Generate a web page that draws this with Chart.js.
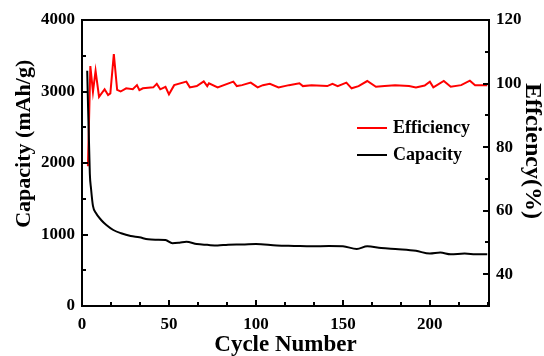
<!DOCTYPE html>
<html>
<head>
<meta charset="utf-8">
<script src="https://cdn.jsdelivr.net/npm/chart.js@4.4.1/dist/chart.umd.min.js"></script>
<style>
  html, body { margin: 0; padding: 0; background: #fff; }
  #wrap { width: 544px; height: 356px; position: relative; }
</style>
</head>
<body>
<div id="wrap"><canvas id="myChart"></canvas></div>
<script>
// cycle numbers and values
var capCycles = [3,4.5,5.2,6.3,8,11,14,18,22.5,28,33,38,43,48,52,56,60,66,72,78,84,92,100,112,122,132,142,150,158,164,172,182,192,200,206,212,220,226,233];
var capacity = [3290,1850,1640,1400,1300,1203,1133,1063,1017,979,961,933,928,923,877,885,899,867,855,845,858,860,868,845,840,835,838,835,797,835,811,795,772,733,747,723,733,725,723];

var effCycles = [3.4,4.8,6.3,7.8,9.8,13,15,16.3,18.3,20.2,22.2,25.4,29.2,31.6,33,35,38,41,43,45,48,50,53,60,62,66,70,72,73,78,87,89,92,97,101,104,108,113,119,125,127,132,141,144,147,152,155,159,164,169,174,180,188,192,197,200,202,208,212,218,223,226,233];
var efficiency = [74,105.5,97.4,104,95.8,98.2,96.4,96.9,109.3,98,97.5,98.5,98.2,99.5,97.9,98.5,98.7,98.8,99.9,98.2,99,96.6,99.5,100.6,98.8,99.2,100.7,99.2,100.1,98.8,100.6,99.2,99.5,100.3,98.8,99.5,99.9,98.8,99.5,100.1,99.2,99.5,99.2,99.9,99.2,100.3,98.5,99.2,100.8,99,99.2,99.5,99.2,98.8,99.4,100.6,98.8,100.8,99,99.5,100.9,99.5,99.5];

var xTicks = [0,50,100,150,200];
var leftTicks = [0,1000,2000,3000,4000];
var rightTicks = [40,60,80,100,120];

var serif = "'Liberation Serif', 'Times New Roman', serif";
Chart.defaults.font.family = serif;
Chart.defaults.font.weight = 'bold';
Chart.defaults.color = '#000';

function toPoints(xs, ys){
    var pts = [];
    for(let i = 0; i < xs.length; i++){
        pts.push({x: xs[i], y: ys[i]});
    }
    return pts;
}

function plain(v){ return String(v); }

// frame + inward ticks (major and minor)
var frameTicks = {
    id: 'frameTicks',
    afterDatasetsDraw: function(chart){
        var ctx = chart.ctx;
        var a = chart.chartArea;
        var sx = chart.scales.x, sl = chart.scales.y, sr = chart.scales.y1;
        ctx.save();
        ctx.strokeStyle = '#000';
        ctx.lineWidth = 2;
        ctx.beginPath();
        // x ticks
        for(let v = 0; v <= sx.max + 0.01; v += 50/3){
            var px = Math.round(sx.getPixelForValue(v));
            var major = Math.abs(v/50 - Math.round(v/50)) < 0.01;
            ctx.moveTo(px, a.bottom);
            ctx.lineTo(px, a.bottom - (major ? 6 : 4));
        }
        // left ticks
        for(let v = 0; v <= sl.max; v += 500){
            var py = Math.round(sl.getPixelForValue(v));
            ctx.moveTo(a.left, py);
            ctx.lineTo(a.left + (v % 1000 === 0 ? 6 : 4), py);
        }
        // right ticks
        for(let v = 40; v <= sr.max; v += 10){
            var py2 = Math.round(sr.getPixelForValue(v));
            ctx.moveTo(a.right, py2);
            ctx.lineTo(a.right - (v % 20 === 0 ? 6 : 4), py2);
        }
        ctx.stroke();
        ctx.strokeRect(a.left, a.top, a.right - a.left, a.bottom - a.top);
        ctx.restore();
    }
};

// legend drawn inside the plot
var innerLegend = {
    id: 'innerLegend',
    afterDraw: function(chart){
        var ctx = chart.ctx;
        var a = chart.chartArea;
        var order = [1, 0];
        ctx.save();
        ctx.font = 'bold 18px ' + serif;
        ctx.textBaseline = 'middle';
        ctx.fillStyle = '#000';
        for(let i = 0; i < order.length; i++){
            var ds = chart.data.datasets[order[i]];
            var y = a.top + 108 + i * 27;
            var x0 = a.left + 275;
            ctx.strokeStyle = ds.borderColor;
            ctx.lineWidth = 2;
            ctx.beginPath();
            ctx.moveTo(x0, y);
            ctx.lineTo(x0 + 30, y);
            ctx.stroke();
            ctx.fillText(ds.label, x0 + 36, y);
        }
        ctx.restore();
    }
};

var noGrid = { display: false, drawTicks: false, tickLength: 0 };

var ctx = document.getElementById('myChart');
var myChart = new Chart(ctx, {
    type: 'line',
    data: {
        datasets: [{
            label: 'Capacity',
            data: toPoints(capCycles, capacity),
            borderColor: '#000',
            borderWidth: 2,
            pointRadius: 0,
            cubicInterpolationMode: 'monotone',
            yAxisID: 'y'
        },{
            label: 'Efficiency',
            data: toPoints(effCycles, efficiency),
            borderColor: '#ff0000',
            borderWidth: 2,
            pointRadius: 0,
            tension: 0,
            yAxisID: 'y1'
        }]
    },
    options: {
        responsive: true,
        maintainAspectRatio: false,
        animation: false,
        layout: { padding: { top: 20, left: 0, right: 0, bottom: 0 } },
        plugins: {
            legend: { display: false },
            tooltip: { enabled: false }
        },
        scales: {
            x: {
                type: 'linear',
                min: 0,
                max: 234,
                grid: noGrid,
                border: { display: false },
                afterFit: function(s){ s.height = 50; },
                afterBuildTicks: function(s){ s.ticks = xTicks.map(function(v){ return {value: v}; }); },
                ticks: { padding: 8, maxRotation: 0, callback: plain, font: { size: 17, weight: 'bold' } },
                title: {
                    display: true,
                    text: 'Cycle Number',
                    font: { size: 23, weight: 'bold', lineHeight: 1 },
                    padding: { top: 0, bottom: -1 }
                }
            },
            y: {
                position: 'left',
                min: 0,
                max: 4000,
                grid: noGrid,
                border: { display: false },
                afterFit: function(s){ s.width = 82; },
                afterBuildTicks: function(s){ s.ticks = leftTicks.map(function(v){ return {value: v}; }); },
                ticks: { padding: 7, callback: plain, font: { size: 17, weight: 'bold' } },
                title: {
                    display: true,
                    // leading spaces push the title up like in the original figure
                    text: '       Capacity (mAh/g)',
                    font: { size: 22, weight: 'bold', lineHeight: 1 },
                    padding: { top: 13, bottom: 0 }
                }
            },
            y1: {
                position: 'right',
                min: 30,
                max: 120,
                grid: noGrid,
                border: { display: false },
                afterFit: function(s){ s.width = 55; },
                afterBuildTicks: function(s){ s.ticks = rightTicks.map(function(v){ return {value: v}; }); },
                ticks: { padding: 7, callback: plain, font: { size: 17, weight: 'bold' } },
                title: {
                    display: true,
                    text: 'Effciency(%)    ',
                    font: { size: 24, weight: 'bold', lineHeight: 1 },
                    padding: { top: 0, bottom: 0 }
                }
            }
        }
    },
    plugins: [frameTicks, innerLegend]
});
</script>
</body>
</html>
